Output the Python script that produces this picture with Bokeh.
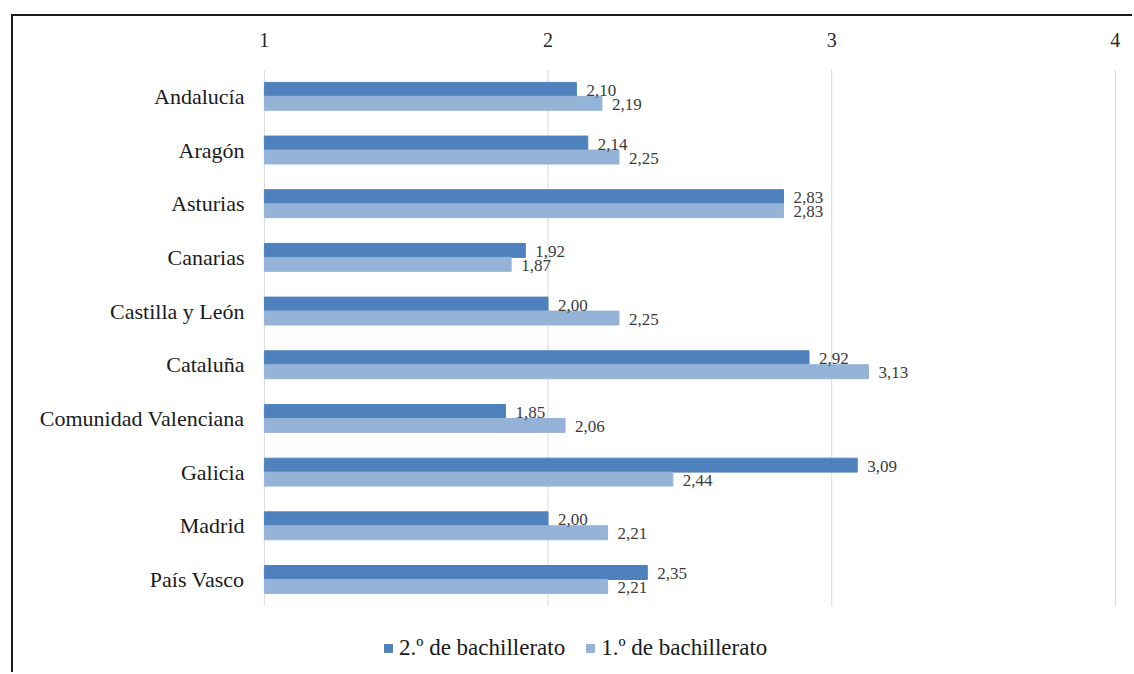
from bokeh.plotting import figure
from bokeh.models import (Range1d, Legend, LegendItem, ColumnDataSource, FixedTicker)
from bokeh.transform import dodge
from bokeh.embed import file_html
from bokeh.resources import INLINE
from bokeh.core.properties import value

# Average scores by region for each course
regions = ["Andalucía", "Aragón", "Asturias", "Canarias", "Castilla y León",
           "Cataluña", "Comunidad Valenciana", "Galicia", "Madrid", "País Vasco"]
segundo = [2.10, 2.14, 2.83, 1.92, 2.00, 2.92, 1.85, 3.09, 2.00, 2.35]
primero = [2.19, 2.25, 2.83, 1.87, 2.25, 3.13, 2.06, 2.44, 2.21, 2.21]
x_ticks = [1, 2, 3, 4]
series_names = ["2.º de bachillerato", "1.º de bachillerato"]

DARK = "#4F81BD"
LIGHT = "#95B3D7"
SERIF = "Liberation Serif"


def fmt(v):
    return f"{v:.2f}".replace(".", ",")


n = len(regions)
ypos = [n - 1 - i for i in range(n)]   # first region on top

source = ColumnDataSource(dict(
    region=regions,
    ypos=ypos,
    segundo=segundo,
    primero=primero,
    lab2=[fmt(v) for v in segundo],
    lab1=[fmt(v) for v in primero],
))

# the figure sits inside a framed box (left and top rules drawn by CSS);
# the plotting frame runs down to the bottom so the legend can sit inside it
p = figure(width=1121, height=658,
           y_range=Range1d(-1.77, n - 0.5),
           x_range=Range1d(0.997, 4.004),
           x_axis_location="above",
           output_backend="svg", toolbar_location=None,
           min_border_left=250, min_border_right=18,
           min_border_top=53, min_border_bottom=0)
p.styles = {"margin-left": "11px", "margin-top": "14px",
            "border-left": "2px solid #1a1a1a", "border-top": "2px solid #1a1a1a"}

p.outline_line_color = None
p.background_fill_color = "white"
p.border_fill_color = "white"
p.xgrid.grid_line_color = None
p.ygrid.grid_line_color = None

# vertical gridlines spanning the category band
p.segment(x0=x_ticks, x1=x_ticks, y0=[-0.5] * len(x_ticks), y1=[n - 0.5] * len(x_ticks),
          line_color="#d9d9d9", line_width=1)

# bars
off = 0.13
bh = 0.26
r2 = p.hbar(y=dodge("ypos", off), left=1, right="segundo",
            height=bh, color=DARK, source=source)
r1 = p.hbar(y=dodge("ypos", -off), left=1, right="primero",
            height=bh, color=LIGHT, source=source)

# value labels
for col, lab, o in (("segundo", "lab2", off), ("primero", "lab1", -off)):
    p.text(x=col, y=dodge("ypos", o), text=lab, source=source,
           x_offset=10, y_offset=1, text_baseline="middle", text_align="left",
           text_font=value(SERIF), text_font_size="17px", text_color="#3a3a3a")

# axes
xa = p.xaxis[0]
xa.ticker = FixedTicker(ticks=x_ticks)
xa.axis_line_color = None
xa.major_tick_line_color = None
xa.minor_tick_line_color = None
xa.major_label_text_font = SERIF
xa.major_label_text_font_size = "20px"
xa.major_label_text_color = "#262626"
xa.major_label_standoff = 17

ya = p.yaxis[0]
ya.ticker = FixedTicker(ticks=ypos)
ya.major_label_overrides = {y: name for y, name in zip(ypos, regions)}
ya.axis_line_color = None
ya.major_tick_line_color = None
ya.minor_tick_line_color = None
ya.major_label_text_font = SERIF
ya.major_label_text_font_size = "22px"
ya.major_label_text_color = "#1a1a1a"
ya.major_label_standoff = 13

# legend under the bars
legend = Legend(items=[LegendItem(label=series_names[0], renderers=[r2]),
                       LegendItem(label=series_names[1], renderers=[r1])],
                orientation="horizontal", location=(120, 13),
                glyph_width=10, glyph_height=10, label_standoff=6, spacing=20,
                padding=0, margin=0, border_line_color=None,
                background_fill_alpha=0,
                label_text_font=SERIF, label_text_font_size="23px",
                label_text_color="#1a1a1a")
p.add_layout(legend)

open("out.html", "w").write(file_html(p, INLINE))
